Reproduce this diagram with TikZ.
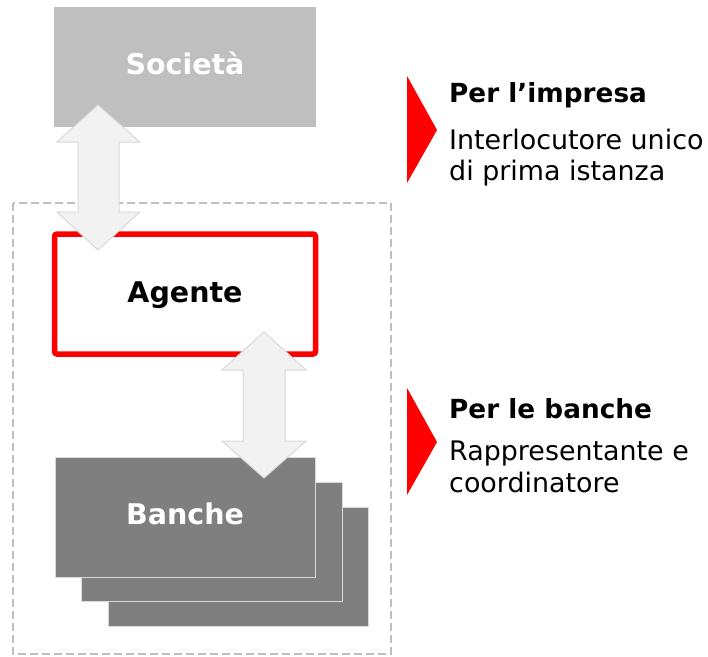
\documentclass[tikz,border=0pt]{standalone}
\usepackage{fontspec}
\setmainfont{DejaVu Sans}
\definecolor{socgray}{HTML}{BFBFBF}
\definecolor{bankgray}{HTML}{7F7F7F}
\definecolor{arrowfill}{HTML}{F2F2F2}
\definecolor{arrowline}{HTML}{D9D9D9}
\definecolor{dashgray}{HTML}{BFBFBF}
\definecolor{agred}{HTML}{FF0000}
\begin{document}
\begin{tikzpicture}[x=1pt,y=-1pt,
  boxlabel/.style={font=\fontsize{28.5}{33}\selectfont\bfseries, anchor=base},
  titletext/.style={font=\fontsize{26.3}{31}\selectfont\bfseries, anchor=base west, inner sep=0pt},
  bodytext/.style={font=\fontsize{26.9}{31}\selectfont, anchor=base west, inner sep=0pt},
  bankbox/.style={fill=bankgray, draw=arrowline, line width=1pt},
  blockarrow/.style={fill=arrowfill, draw=arrowline, line width=1pt, line join=miter},
  redtri/.style={fill=agred, draw=none}]
\useasboundingbox (0,0) rectangle (708,656);
% dashed frame
\draw[dashgray, line width=1.5pt, dash pattern=on 8pt off 4pt] (13,203) rectangle (391,654);
% Societa
\fill[socgray] (54,7) rectangle (316,127);
\node[boxlabel, text=white] (soc) at (185,74) {Società};
% Agente
\draw[agred, line width=5.5pt, fill=white, rounded corners=2.5pt] (54.5,234) rectangle (315.5,354);
\node[boxlabel, text=black] (ag) at (185,302) {Agente};
% Banche stack
\draw[bankbox] (108,507) rectangle (368,626);
\draw[bankbox] (81,482) rectangle (342,601);
\draw[bankbox] (55,457) rectangle (315,577);
\node[boxlabel, text=white] (ban) at (185,524) {Banche};
% block arrows
\draw[blockarrow] (98,105) -- (140,142) -- (119,142) -- (119,212) -- (140,212) -- (98,250)
  -- (57,212) -- (78,212) -- (78,142) -- (57,142) -- cycle;
\draw[blockarrow] (264,332) -- (306,370) -- (285,370) -- (285,441) -- (306,441) -- (264,478)
  -- (222,441) -- (243,441) -- (243,370) -- (222,370) -- cycle;
% red triangles
\fill[redtri] (407,76) -- (437,130) -- (407,183) -- cycle;
\fill[redtri] (407,388) -- (437,442) -- (407,495) -- cycle;
% texts
\node[titletext] (t1) at (449,102) {Per l’impresa};
\node[bodytext] (b1a) at (449,149) {Interlocutore unico};
\node[bodytext] (b1b) at (449,180) {di prima istanza};
\node[titletext] (t2) at (449,418) {Per le banche};
\node[bodytext] (b2a) at (449,460) {Rappresentante e};
\node[bodytext] (b2b) at (449,492) {coordinatore};
\end{tikzpicture}
\end{document}
